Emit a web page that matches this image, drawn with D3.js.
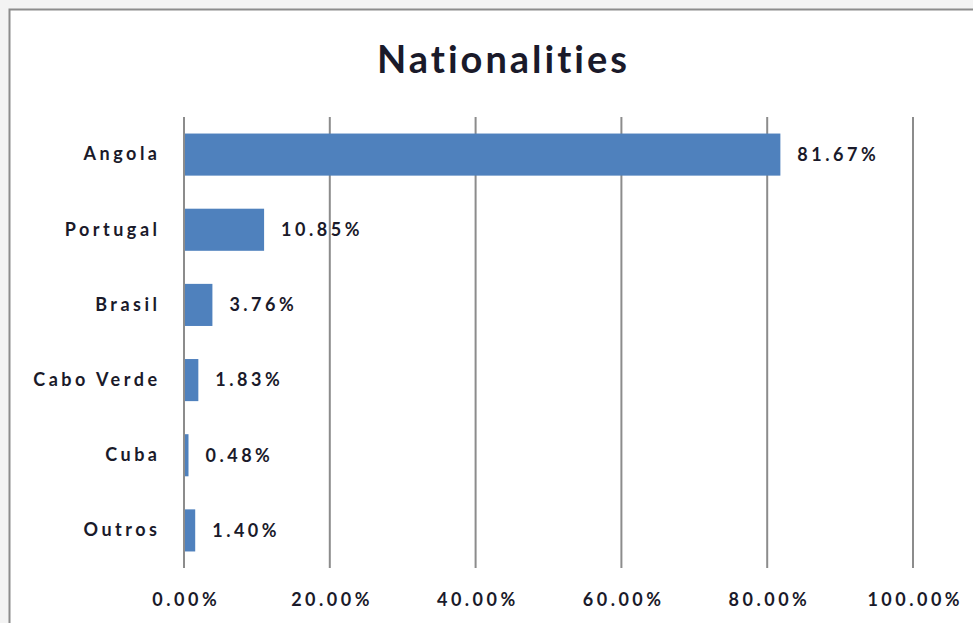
<!DOCTYPE html>
<html>
<head>
<meta charset="utf-8">
<script src="https://cdn.jsdelivr.net/npm/d3@7"></script>
<style>
  body { margin: 0; background: #f3f3f3; }
  svg { display: block; }
  text { font-family: Lato, "Open Sans", sans-serif; fill: #1a1a2a; }
</style>
</head>
<body>
<svg id="chart" width="973" height="623"></svg>
<script>
var countries = ['Angola', 'Portugal', 'Brasil', 'Cabo Verde', 'Cuba', 'Outros'];
var shares = [81.67, 10.85, 3.76, 1.83, 0.48, 1.40];
var ticks = [0, 20, 40, 60, 80, 100];

var svg = d3.select('#chart');

var spacing = 3.5; // the source text is set wide

// chart frame
svg.append('rect')
  .attr('x', 9.5).attr('y', 9.5)
  .attr('width', 980).attr('height', 640)
  .attr('fill', '#fff')
  .attr('stroke', '#8c8c8c')
  .attr('stroke-width', 2);

var plot = { left: 184, right: 913, top: 117, bottom: 568 };

var x = d3.scaleLinear().domain([0, 100]).range([plot.left, plot.right]);
var y = d3.scaleBand().domain(countries).range([plot.top, plot.bottom]).paddingInner(0.44).paddingOuter(0.22);

svg.append('text')
  .attr('x', 502 + 1.5).attr('y', 73)
  .attr('text-anchor', 'middle')
  .style('font-size', '38px')
  .style('font-weight', 'bold')
  .style('letter-spacing', '3px')
  .text('Nationalities');

// grid
svg.append('g')
  .selectAll('line')
  .data(ticks)
  .join('line')
  .attr('x1', function (d) { return x(d); })
  .attr('x2', function (d) { return x(d); })
  .attr('y1', plot.top)
  .attr('y2', plot.bottom)
  .attr('stroke', '#8c8c8c')
  .attr('stroke-width', 2);

// x axis labels
var xAxis = d3.axisBottom(x)
  .tickValues(ticks)
  .tickSize(0)
  .tickPadding(0)
  .tickFormat(function (d) { return d.toFixed(2) + '%'; });

var gx = svg.append('g')
  .attr('transform', 'translate(0,' + (plot.bottom + 25) + ')')
  .call(xAxis);
gx.select('.domain').remove();
gx.selectAll('text')
  .attr('dy', '0.7em')
  .attr('dx', spacing / 2)
  .style('font-family', 'Lato, sans-serif')
  .style('font-size', '18px')
  .style('font-weight', 'bold')
  .style('letter-spacing', spacing + 'px')
  .attr('fill', '#1a1a2a');

// y axis labels
var yAxis = d3.axisLeft(y).tickSize(0).tickPadding(27 - spacing);
var gy = svg.append('g')
  .attr('transform', 'translate(' + plot.left + ',0)')
  .call(yAxis);
gy.select('.domain').remove();
gy.selectAll('text')
  .style('font-family', 'Lato, sans-serif')
  .style('font-size', '18px')
  .style('font-weight', 'bold')
  .style('letter-spacing', spacing + 'px')
  .attr('fill', '#1a1a2a');

// bars
var rows = countries.map(function (c, i) { return { name: c, value: shares[i] }; });

svg.append('g')
  .selectAll('rect')
  .data(rows)
  .join('rect')
  .attr('x', x(0) + 1)
  .attr('y', function (d) { return y(d.name); })
  .attr('width', function (d) { return x(d.value) - x(0); })
  .attr('height', y.bandwidth())
  .attr('fill', '#4f81bd');

// value labels
svg.append('g')
  .selectAll('text')
  .data(rows)
  .join('text')
  .attr('x', function (d) { return x(d.value) + 18; })
  .attr('y', function (d) { return y(d.name) + y.bandwidth() / 2; })
  .attr('dy', '0.35em')
  .style('font-size', '18px')
  .style('font-weight', 'bold')
  .style('letter-spacing', spacing + 'px')
  .text(function (d) { return d.value.toFixed(2) + '%'; });
</script>
</body>
</html>
